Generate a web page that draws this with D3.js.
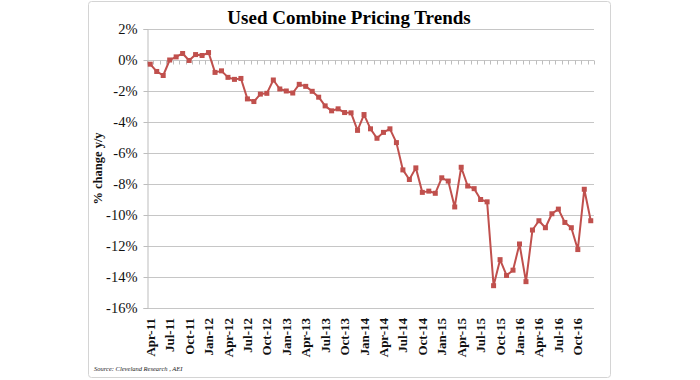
<!DOCTYPE html>
<html>
<head>
<meta charset="utf-8">
<script src="https://cdn.jsdelivr.net/npm/d3@7"></script>
<style>
  html, body { margin: 0; padding: 0; background: #fff; }
  svg { display: block; }
</style>
</head>
<body>
<svg id="chart" width="700" height="380"></svg>
<script>
const months = ["Jan","Feb","Mar","Apr","May","Jun","Jul","Aug","Sep","Oct","Nov","Dec"];
// Monthly categories Apr-11 .. Dec-16
const categories = [];
for (let y = 11; y <= 16; y++) {
  for (let m = 0; m < 12; m++) {
    if (y === 11 && m < 3) continue;
    categories.push(months[m] + "-" + y);
  }
}
const values = [
  -0.27, -0.74, -1.0, 0.0, 0.2, 0.42, -0.03, 0.35, 0.29, 0.48,
  -0.8, -0.7, -1.12, -1.25, -1.19, -2.51, -2.68, -2.2, -2.15, -1.29,
  -1.87, -2.0, -2.13, -1.57, -1.70, -2.02, -2.4, -2.96, -3.28, -3.15,
  -3.39, -3.41, -4.54, -3.52, -4.44, -5.05, -4.67, -4.44, -5.33, -7.09,
  -7.71, -6.96, -8.54, -8.46, -8.6, -7.6, -7.81, -9.48, -6.92, -8.13,
  -8.3, -9.0, -9.15, -14.56, -12.88, -13.9, -13.56, -11.87, -14.3, -10.97,
  -10.37, -10.82, -9.92, -9.62, -10.48, -10.82, -12.23, -8.34, -10.37
];
const yTicks = [2, 0, -2, -4, -6, -8, -10, -12, -14, -16];
const xTickLabels = categories.filter((c, i) => i % 3 === 0);
const titleText = "Used Combine Pricing Trends";
const yAxisTitle = "% change y/y";
const sourceText = "Source: Cleveland Research , AEI";

const svg = d3.select("#chart");
const serif = "'Liberation Serif', 'Times New Roman', serif";

// outer frame
svg.append("rect")
  .attr("x", 88.5).attr("y", 1.5).attr("width", 522).attr("height", 376)
  .attr("rx", 3).attr("fill", "#fff").attr("stroke", "#d4d4d4").attr("stroke-width", 1);

const plot = { left: 147, right: 594, top: 29, bottom: 308 };

const x = d3.scaleBand().domain(categories).range([plot.left, plot.right]).padding(0);
const y = d3.scaleLinear().domain([-16, 2]).range([plot.bottom, plot.top]);

// gridlines
svg.append("g").selectAll("line").data(yTicks).join("line")
  .attr("x1", plot.left).attr("x2", plot.right)
  .attr("y1", d => Math.round(y(d)) + 0.5).attr("y2", d => Math.round(y(d)) + 0.5)
  .attr("stroke", "#c6c6c6").attr("stroke-width", 1.2);

// y axis
const yAxis = d3.axisLeft(y).tickValues(yTicks).tickSize(4).tickFormat(d => d + "%");
const gy = svg.append("g").attr("transform", `translate(${plot.left + 0.5},0)`).call(yAxis);
gy.select(".domain").attr("stroke", "#bdbdbd");
gy.selectAll(".tick line").attr("stroke", "#bdbdbd");
gy.selectAll(".tick text")
  .attr("font-family", serif).attr("font-size", 14.5).attr("fill", "#111").attr("x", -10);

// category axis crossing at 0% with tick marks at category boundaries
const boundaries = categories.map(c => x(c)).concat([plot.right]);
svg.append("g").selectAll("line").data(boundaries).join("line")
  .attr("x1", d => Math.round(d) + 0.5).attr("x2", d => Math.round(d) + 0.5)
  .attr("y1", Math.round(y(0)) + 0.5).attr("y2", Math.round(y(0)) + 4.5)
  .attr("stroke", "#bdbdbd").attr("stroke-width", 1);

// x tick labels at bottom
const xAxis = d3.axisBottom(x).tickValues(xTickLabels).tickSize(0);
const gx = svg.append("g").attr("transform", `translate(0,${plot.bottom})`).call(xAxis);
gx.select(".domain").remove();
gx.selectAll(".tick text")
  .attr("font-family", serif).attr("font-size", 13).attr("font-weight", "bold").attr("fill", "#111")
  .attr("transform", "rotate(-90)")
  .attr("text-anchor", "end")
  .attr("x", -10).attr("y", 0).attr("dy", "0.35em");

// line
const line = d3.line()
  .x((d, i) => x(categories[i]) + x.bandwidth() / 2)
  .y(d => y(d));
svg.append("path").datum(values)
  .attr("d", line).attr("fill", "none")
  .attr("stroke", "#c0504d").attr("stroke-width", 2).attr("stroke-linejoin", "round");

// markers
const ms = 5;
svg.append("g").selectAll("rect").data(values).join("rect")
  .attr("x", (d, i) => x(categories[i]) + x.bandwidth() / 2 - ms / 2)
  .attr("y", d => y(d) - ms / 2)
  .attr("width", ms).attr("height", ms)
  .attr("fill", "#c0504d");

// title
svg.append("text").attr("x", 349).attr("y", 24)
  .attr("text-anchor", "middle").attr("font-family", serif)
  .attr("font-size", 19).attr("font-weight", "bold").attr("fill", "#000")
  .text(titleText);

// y axis title
svg.append("text")
  .attr("transform", `translate(102,${(plot.top + plot.bottom) / 2}) rotate(-90)`)
  .attr("text-anchor", "middle").attr("font-family", serif)
  .attr("font-size", 12.5).attr("font-weight", "bold").attr("fill", "#111")
  .text(yAxisTitle);

// source
svg.append("text").attr("x", 94).attr("y", 371)
  .attr("font-family", serif).attr("font-style", "italic")
  .attr("font-size", 6.5).attr("fill", "#222")
  .text(sourceText);
</script>
</body>
</html>
